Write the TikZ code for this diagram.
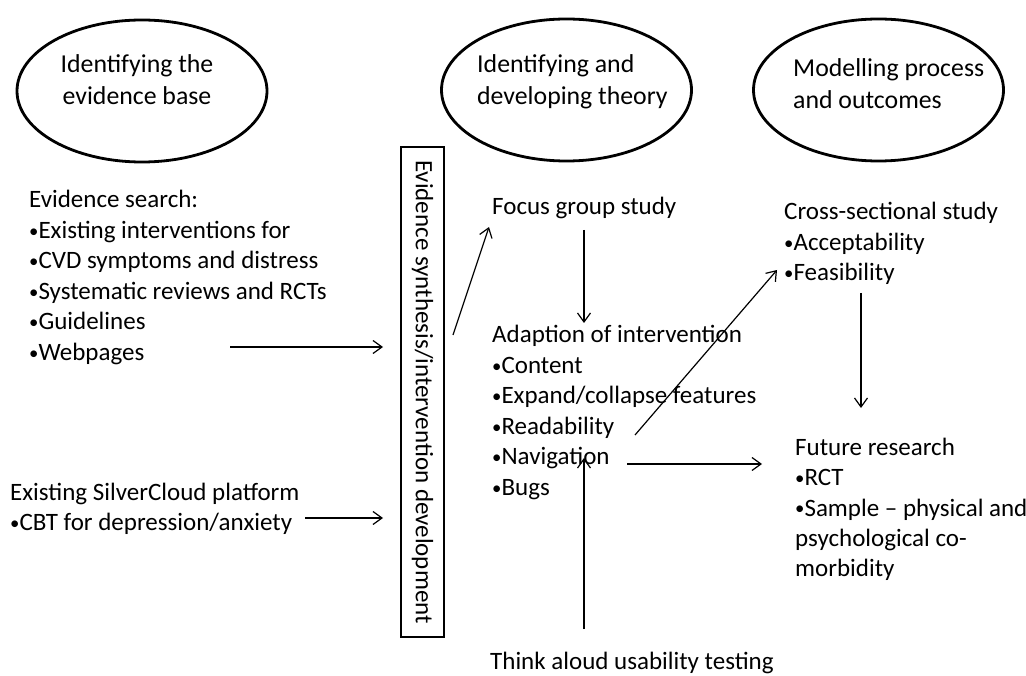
\documentclass[tikz,border=0pt]{standalone}
\usepackage{fontspec}
\setmainfont{Carlito}
\usetikzlibrary{shapes.geometric,arrows.meta}
\newcommand{\rowtxt}[1]{\hbox{#1}}
\newcommand{\bul}{\raisebox{0.12ex}{\scalebox{0.75}{•}}}
\begin{document}
\begin{tikzpicture}[x=1pt,y=-1pt,
  oval/.style={draw,ellipse,line width=2.8pt,minimum width=250pt,minimum height=142pt,inner sep=0pt},
  txt/.style={anchor=base west,inner sep=0pt,font=\fontsize{25}{30.5}\selectfont},
  otxt/.style={anchor=base west,inner sep=0pt,font=\fontsize{25.8}{31.5}\selectfont},
  arr/.style={line width=1.2pt,-{Straight Barb[length=9pt,width=13pt,line width=1.2pt]}},
  synbox/.style={draw,line width=2pt,minimum width=43pt,minimum height=490pt,inner sep=0pt}]
\useasboundingbox (0,0) rectangle (1026,676);

% ellipses
\node[oval] (e1) at (142,91) {};
\node[oval] (e2) at (566.5,90) {};
\node[oval] (e3) at (878.5,90) {};
\node[otxt,anchor=base] (t1) at (137,73) {\vtop{\halign{\hfil#\hfil\cr Identifying the\cr evidence base\cr}}};
\node[otxt] (t2) at (477,73) {\vtop{\rowtxt{Identifying and}\rowtxt{developing theory}}};
\node[otxt] (t3) at (793,77) {\vtop{\rowtxt{Modelling process}\rowtxt{and outcomes}}};

% synthesis box
\node[synbox] (box) at (422.5,392) {};
\node[rotate=-90,font=\fontsize{25}{30}\selectfont,inner sep=0pt] (boxt) at (box.center) {Evidence synthesis/intervention development};

% left texts
\node[txt] (ev) at (29,208) {\vtop{\rowtxt{Evidence search:}\rowtxt{\bul Existing interventions for}\rowtxt{\bul CVD symptoms and distress}\rowtxt{\bul Systematic reviews and RCTs}\rowtxt{\bul Guidelines}\rowtxt{\bul Webpages}}};
\node[txt] (sc) at (10,500) {\vtop{\rowtxt{Existing SilverCloud platform}\rowtxt{\bul CBT for depression/anxiety}}};

% middle texts
\node[txt] (fg) at (492,215) {Focus group study};
\node[txt] (ad) at (492,343) {\vtop{\rowtxt{Adaption of intervention}\rowtxt{\bul Content}\rowtxt{\bul Expand/collapse features}\rowtxt{\bul Readability}\rowtxt{\bul Navigation}\rowtxt{\bul Bugs}}};
\node[txt] (ta) at (490,669) {Think aloud usability testing};

% right texts
\node[txt] (cs) at (784,220) {\vtop{\rowtxt{Cross-sectional study}\rowtxt{\bul Acceptability}\rowtxt{\bul Feasibility}}};
\node[txt] (fr) at (795,455) {\vtop{\rowtxt{Future research}\rowtxt{\bul RCT}\rowtxt{\bul Sample – physical and}\rowtxt{psychological co-}\rowtxt{morbidity}}};

% arrow end points
\coordinate (a1s) at (230,347); \coordinate (a1e) at (383,347);
\coordinate (a2s) at (305,518); \coordinate (a2e) at (383,518);
\coordinate (a3s) at (453,335); \coordinate (a3e) at (489,227);
\coordinate (a4s) at (584,230); \coordinate (a4e) at (584,323);
\coordinate (a5s) at (635,435); \coordinate (a5e) at (777,270);
\coordinate (a6s) at (627,464); \coordinate (a6e) at (762,464);
\coordinate (a7s) at (584,629); \coordinate (a7e) at (584,458);
\coordinate (a8s) at (861,293); \coordinate (a8e) at (861,408);

\draw[arr] (a1s) -- (a1e);
\draw[arr] (a2s) -- (a2e);
\draw[arr] (a3s) -- (a3e);
\draw[arr] (a4s) -- (a4e);
\draw[arr] (a5s) -- (a5e);
\draw[arr] (a6s) -- (a6e);
\draw[arr] (a7s) -- (a7e);
\draw[arr] (a8s) -- (a8e);
\end{tikzpicture}
\end{document}
